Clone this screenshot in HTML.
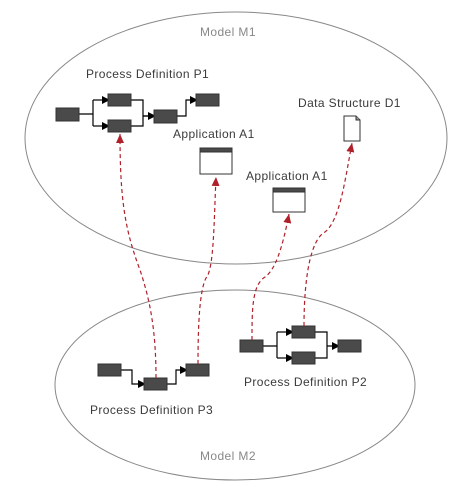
<!DOCTYPE html>
<html><head><style>body{margin:0;background:#fff}svg{display:block}text{font-family:"Liberation Sans",sans-serif;font-size:12px;fill:#3a3a3a;letter-spacing:0.4px}</style></head>
<body>
<svg width="471" height="500" viewBox="0 0 471 500">
<defs>
<marker id="ar" markerWidth="8" markerHeight="8" refX="4" refY="0" orient="auto" markerUnits="userSpaceOnUse" viewBox="0 -4 8 8"><path d="M0,-4 L8,0 L0,4Z" fill="#000"/></marker>
<marker id="rr" markerWidth="10" markerHeight="10" refX="9" refY="5" orient="auto" markerUnits="userSpaceOnUse"><path d="M0,1 L9,5 L0,9Z" fill="#b0202a"/></marker>
</defs>
<ellipse cx="236" cy="138" rx="211" ry="126" fill="none" stroke="#888" stroke-width="1"/>
<ellipse cx="235" cy="385" rx="180" ry="95" fill="none" stroke="#888" stroke-width="1"/>
<text x="200" y="36" style="fill:#888">Model M1</text>
<text x="200" y="460" style="fill:#888">Model M2</text>
<text x="86" y="78">Process Definition P1</text>
<text x="173" y="138">Application  A1</text>
<text x="246" y="180">Application  A1</text>
<text x="298" y="107">Data Structure D1</text>
<text x="90" y="414">Process Definition P3</text>
<text x="244" y="386">Process Definition P2</text>
<g stroke="#000" stroke-width="1.2" fill="none">
<path d="M79,114 H93 M93,100 V126"/>
<path d="M93,100 H106" marker-end="url(#ar)"/><path d="M93,126 H106" marker-end="url(#ar)"/>
<path d="M131,100 H143 V126 H131 M143,116 H152"/><path d="M143,116 H152" marker-end="url(#ar)"/>
<path d="M177,116 H186 V100 H194" marker-end="url(#ar)"/>
<path d="M121,370 H132 V384 H142" marker-end="url(#ar)"/>
<path d="M167,384 H176 V370 H184" marker-end="url(#ar)"/>
<path d="M263,346 H277 M277,332 V358"/>
<path d="M277,332 H290" marker-end="url(#ar)"/><path d="M277,358 H290" marker-end="url(#ar)"/>
<path d="M315,332 H327 V358 H315 M327,346 H336" marker-end="url(#ar)"/>
</g>
<g fill="#4a4a4a" stroke="#333">
<rect x="56" y="108" width="23" height="13"/><rect x="108" y="94" width="23" height="12"/><rect x="108" y="120" width="23" height="12"/><rect x="154" y="110" width="23" height="13"/><rect x="196" y="94" width="23" height="12"/>
<rect x="98" y="364" width="23" height="12"/><rect x="144" y="378" width="23" height="12"/><rect x="186" y="364" width="23" height="12"/>
<rect x="240" y="340" width="23" height="12"/><rect x="292" y="326" width="23" height="12"/><rect x="292" y="352" width="23" height="12"/><rect x="338" y="340" width="23" height="12"/>
</g>
<g stroke="#333" fill="#fff">
<rect x="200" y="148" width="32" height="26"/><rect x="200" y="148" width="32" height="4" fill="#4a4a4a"/>
<rect x="273" y="188" width="32" height="24"/><rect x="273" y="188" width="32" height="4" fill="#4a4a4a"/>
<path d="M344,116 H356 L360,120 V141 H344Z"/><path d="M356,116 V120 H360" fill="#999"/>
</g>
<g stroke="#b0202a" stroke-width="1.2" fill="none" stroke-dasharray="4,3">
<path d="M156,378 C156,330 150,300 140,270 C125,230 120,200 120,134" marker-end="url(#rr)"/>
<path d="M198,364 C198,320 200,290 206,278 C214,270 214,220 216,177" marker-end="url(#rr)"/>
<path d="M252,340 C252,310 252,285 265,277 C275,270 282,250 289,214" marker-end="url(#rr)"/>
<path d="M304,326 C304,280 310,240 325,232 C340,220 345,180 352,143" marker-end="url(#rr)"/>
</g>
</svg>
</body></html>
